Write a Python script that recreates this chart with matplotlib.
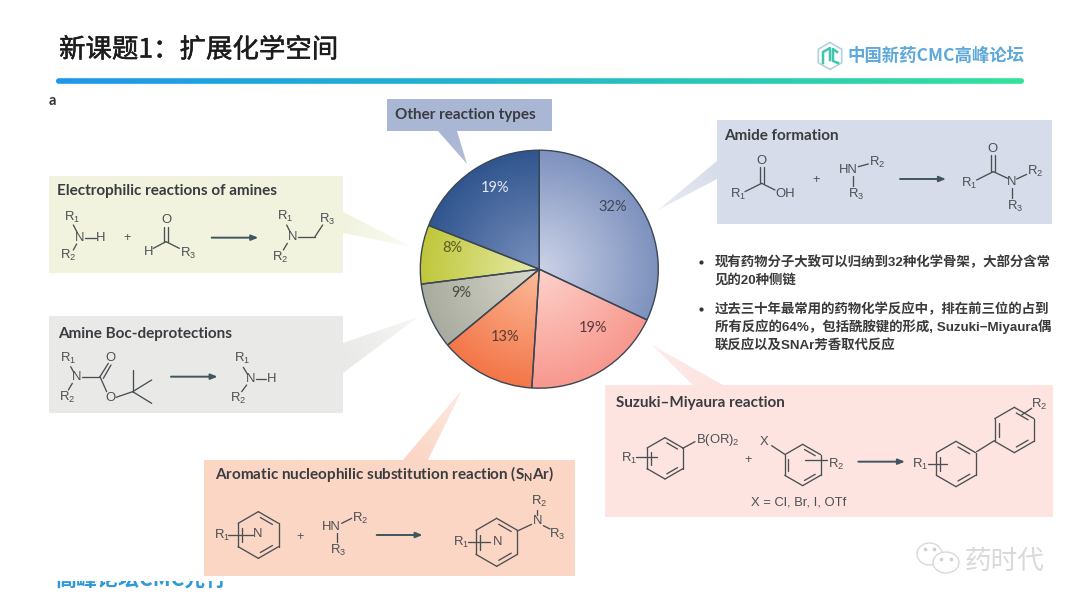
import numpy as np
import matplotlib
matplotlib.use("Agg")
import matplotlib.pyplot as plt
import matplotlib.patheffects as pe
from matplotlib.colors import LinearSegmentedColormap, to_rgb
from matplotlib.patches import Polygon, Rectangle, FancyBboxPatch, Ellipse

plt.rcParams["font.family"] = ["Noto Sans CJK SC", "DejaVu Sans"]

# pie values, clockwise from the top
shares = [32, 19, 13, 9, 8, 19]
inner_colors = ["#ccd3e8", "#fdd2cb", "#fcbb9b", "#d8d9cc", "#e6ebaa", "#7a90bd"]
outer_colors = ["#7e92be", "#f8988e", "#f37648", "#a9ab9e", "#c0c73a", "#30558f"]
label_colors = ["#3f4658", "#5a3a3a", "#5a3a30", "#4a4a44", "#5a5a20", "#e4e9f4"]

title_text = "新课题1：扩展化学空间"
logo_text = "中国新药CMC高峰论坛"
footer_text = "高峰论坛CMC先行"
watermark_text = "药时代"
bullet_lines = [
    "现有药物分子大致可以归纳到32种化学骨架，大部分含常",
    "见的20种侧链",
    "过去三十年最常用的药物化学反应中，排在前三位的占到",
    "所有反应的64%，包括酰胺键的形成, Suzuki−Miyaura偶",
    "联反应以及SNAr芳香取代反应",
]

R1 = r"R$_\mathregular{1}$"
R2 = r"R$_\mathregular{2}$"
R3 = r"R$_\mathregular{3}$"
INK = "#4a4f52"
LATIN = ["Lato", "DejaVu Sans"]
CHEM = ["Liberation Sans", "DejaVu Sans"]

fig = plt.figure(figsize=(10.8, 6.08), dpi=100, facecolor="white")
ax = fig.add_axes([0, 0, 1, 1])


def tail_fade(tail, color, tip_alpha):
    # pointer of a panel: fades from the panel edge towards its tip
    pts = np.array(tail, dtype=float)
    base = (pts[0] + pts[1]) / 2
    along = pts[2] - base
    x0, y0 = pts.min(axis=0)
    x1, y1 = pts.max(axis=0)
    gx, gy = np.meshgrid(np.linspace(x0, x1, 80), np.linspace(y0, y1, 80))
    t = np.clip(((gx - base[0]) * along[0] + (gy - base[1]) * along[1]) / (along @ along), 0, 1)
    rgba = np.zeros(t.shape + (4,))
    rgba[..., :3] = to_rgb(color)
    rgba[..., 3] = 1 - (1 - tip_alpha) * t
    im = ax.imshow(rgba, extent=(x0, x1, y1, y0), origin="upper", aspect="auto", zorder=1)
    clip = Polygon(pts, closed=True, fc="none", ec="none", transform=ax.transData)
    ax.add_patch(clip)
    im.set_clip_path(clip)


def panel(x0, y0, x1, y1, color, tail, tip_alpha, title, tx, ty):
    ax.add_patch(Rectangle((x0, y0), x1 - x0, y1 - y0, fc=color, ec="none", zorder=1))
    tail_fade(tail, color, tip_alpha)
    ax.text(tx, ty, title, family=LATIN, weight="bold", fontsize=11,
            color="#3a3d40", va="center", zorder=3)


def sketch(ox, oy, segs, labels, arrow=None, plus=None):
    # structure coordinates are 3x crop pixels, ox and oy are the crop corner
    for (xa, ya), (xb, yb) in segs:
        ax.plot([ox + xa / 3, ox + xb / 3], [oy + ya / 3, oy + yb / 3],
                color=INK, lw=0.95, zorder=3, solid_capstyle="round")
    for lx, ly, s in labels:
        ax.text(ox + lx / 3, oy + ly / 3, s, family=CHEM, fontsize=9.4,
                color=INK, ha="center", va="center", zorder=3)
    if arrow is not None:
        (xa, xb, ya) = arrow
        ax.annotate("", xy=(ox + xb / 3, oy + ya / 3), xytext=(ox + xa / 3, oy + ya / 3),
                    arrowprops=dict(arrowstyle="-|>,head_width=0.16,head_length=0.4",
                                    color="#3f5560", lw=1.4, shrinkA=0, shrinkB=0),
                    zorder=3)
    if plus is not None:
        ax.text(ox + plus[0] / 3, oy + plus[1] / 3, "+", family=CHEM, fontsize=9,
                color=INK, ha="center", va="center", zorder=3)


def ring(ox, oy, cx, cy, r, shift=0):
    # benzene-like ring with the point up, inner lines on every second edge
    angles = np.radians(90 + 60 * np.arange(7))
    xs = cx + r * np.cos(angles)
    ys = cy - r * np.sin(angles)
    segs = [((xs[i], ys[i]), (xs[i + 1], ys[i + 1])) for i in range(6)]
    for i in range(shift, 6, 2):
        mx, my = (xs[i] + xs[i + 1]) / 2, (ys[i] + ys[i + 1]) / 2
        ax_, ay_ = xs[i] + 0.2 * (xs[i + 1] - xs[i]), ys[i] + 0.2 * (ys[i + 1] - ys[i])
        bx_, by_ = xs[i] + 0.8 * (xs[i + 1] - xs[i]), ys[i] + 0.8 * (ys[i + 1] - ys[i])
        dx, dy = (cx - mx) * 0.2, (cy - my) * 0.2
        segs.append(((ax_ + dx, ay_ + dy), (bx_ + dx, by_ + dy)))
    sketch(ox, oy, segs, [])


# header
title = ax.text(59, 50, title_text, fontsize=19.05, color="#1c1c1c", va="center")
title.set_path_effects([pe.withStroke(linewidth=0.35, foreground="#1c1c1c")])
band = np.linspace(0, 1, 256).reshape(1, -1)
band_cmap = LinearSegmentedColormap.from_list("band", ["#1c98ea", "#24b8c8", "#33e29a"])
band_im = ax.imshow(band, extent=(56, 1024, 84, 78), cmap=band_cmap, aspect="auto", zorder=2)
band_clip = FancyBboxPatch((56, 78.2), 968, 5.6, boxstyle="round,pad=0,rounding_size=2.8",
                           fc="none", ec="none", transform=ax.transData)
ax.add_patch(band_clip)
band_im.set_clip_path(band_clip)

# logo
hex_a = np.radians(90 + 60 * np.arange(6))
ax.add_patch(Polygon(np.c_[830 + 13.5 * np.cos(hex_a), 56 - 13.5 * np.sin(hex_a)],
                     closed=True, fc="none", ec="#b4d2dc", lw=1.2, zorder=2))
ax.plot([823, 823, 830, 830], [63, 52, 48, 60], color="#3cc7ae", lw=1.8, zorder=3)
ax.plot([837, 833, 833, 838], [52, 49, 61, 63], color="#3cc7ae", lw=1.8, zorder=3)
ax.text(847, 55.5, logo_text, fontsize=12.55, weight="bold", color="#5ea8da", va="center", zorder=3)

ax.text(49, 101, "a", family=LATIN, weight="bold", fontsize=10.5, color="#333333", va="center")

# panels around the pie
panel(387, 99, 552, 131, "#a9b6d4", [(438, 131), (457, 131), (467, 164)], 0.9,
      "Other reaction types", 395, 114.5)
panel(717, 120, 1052, 224, "#d6dcea", [(717, 161), (717, 179), (658, 210)], 0.5,
      "Amide formation", 724, 136)
panel(49, 176, 343, 273, "#f1f3de", [(343, 212), (343, 233), (412, 247)], 0.3,
      "Electrophilic reactions of amines", 57, 190.5)
panel(49, 316, 343, 413, "#e9e9e7", [(343, 343), (343, 373), (418, 317)], 0.4,
      "Amine Boc-deprotections", 58, 334)
panel(204, 460, 575, 576, "#fbd6c5", [(403, 460), (428, 460), (462, 390)], 0.5,
      r"Aromatic nucleophilic substitution reaction (S$_\mathregular{N}$Ar)", 215, 474.5)
panel(605, 385, 1053, 517, "#fde4e1", [(693, 385), (723, 385), (652, 345)], 0.7,
      "Suzuki–Miyaura reaction", 616, 403.5)

# electrophilic reactions of amines
sketch(40, 170,
       [((100, 165), (112, 188)), ((100, 240), (110, 222)), ((135, 205), (168, 205)),
        ((372, 172), (372, 215)), ((384, 172), (384, 215)), ((340, 235), (378, 215)),
        ((378, 215), (418, 235)), ((740, 165), (750, 185)), ((742, 220), (730, 240)),
        ((775, 200), (825, 200)), ((825, 200), (848, 165))],
       [(95, 143, R1), (120, 205, "N"), (183, 205, "H"), (85, 255, R2), (378, 150, "O"),
        (325, 245, "H"), (445, 250, R3), (735, 140, R1), (758, 202, "N"), (720, 262, R2),
        (862, 147, R3)],
       arrow=(515, 655, 203), plus=(260, 205))

# amine boc deprotection
sketch(40, 170,
       [((92, 590), (102, 608)), ((97, 640), (85, 660)), ((125, 620), (180, 620)),
        ((180, 620), (205, 580)), ((190, 625), (213, 585)), ((180, 620), (200, 665)),
        ((228, 682), (278, 665)), ((278, 665), (278, 600)), ((278, 665), (335, 630)),
        ((278, 665), (335, 700)), ((610, 592), (622, 612)), ((648, 628), (678, 628)),
        ((620, 645), (605, 665))],
       [(85, 565, R1), (110, 622, "N"), (80, 682, R2), (212, 565, "O"), (212, 685, "O"),
        (605, 565, R1), (632, 628, "N"), (695, 628, "H"), (595, 685, R2)],
       arrow=(393, 533, 620))

# SNAr
ring(200, 455, 175, 240, 70, shift=1)
ring(200, 455, 890, 262, 72, shift=1)
sketch(200, 455,
       [((85, 240), (158, 240)), ((425, 205), (455, 190)), ((410, 235), (410, 262)),
        ((803, 262), (870, 262)), ((952, 228), (995, 208)), ((1012, 165), (1012, 180)),
        ((1030, 212), (1050, 222))],
       [(65, 240, R1), (172, 238, "N"), (395, 215, "HN"), (480, 190, R2), (415, 285, R3),
        (782, 262, R1), (892, 262, "N"), (1012, 198, "N"), (1018, 140, R2), (1072, 238, R3)],
       arrow=(530, 668, 240), plus=(300, 245))

# Suzuki-Miyaura
ring(600, 380, 195, 235, 62, shift=1)
ring(600, 380, 608, 255, 62, shift=1)
ring(600, 380, 1068, 252, 68, shift=1)
ring(600, 380, 1243, 150, 68, shift=1)
sketch(600, 380,
       [((108, 232), (170, 232)), ((248, 205), (285, 185)), ((515, 197), (553, 222)),
        ((615, 240), (682, 240)), ((985, 252), (1040, 252)), ((1130, 215), (1183, 182)),
        ((1265, 105), (1295, 85))],
       [(88, 235, R1), (352, 180, r"B(OR)$_\mathregular{2}$"), (492, 187, "X"),
        (708, 252, R2), (960, 252, R1), (1318, 72, R2),
        (595, 368, "X = Cl, Br, I, OTf")],
       arrow=(775, 915, 245), plus=(443, 240))

# amide formation
sketch(710, 115,
       [((150, 155), (150, 205)), ((162, 155), (162, 205)), ((105, 230), (155, 205)),
        ((155, 205), (195, 225)), ((445, 155), (475, 147)), ((428, 183), (428, 213)),
        ((800, 195), (850, 170)), ((843, 120), (843, 170)), ((855, 120), (855, 170)),
        ((850, 170), (893, 190)), ((920, 192), (950, 178)), ((905, 218), (905, 250))],
       [(155, 137, "O"), (85, 238, R1), (225, 238, "OH"), (415, 165, "HN"), (500, 143, R2),
        (438, 238, R3), (778, 205, R1), (848, 103, "O"), (905, 200, "N"), (975, 170, R2),
        (915, 275, R3)],
       arrow=(570, 708, 192), plus=(318, 195))

# bullet text
for bx, by in [(701, 262), (701, 309)]:
    ax.plot(bx, by, "o", ms=2.0, color="#333333", zorder=3)
for line, ly in zip(bullet_lines, [262, 280, 309, 327, 345]):
    ax.text(715, ly, line, family=["Liberation Sans", "Noto Sans CJK SC"], weight="bold",
            fontsize=9.68, color="#3a3a3a", va="center", zorder=3)

# footer text cut off by the white strip above it
ax.text(56, 579, footer_text, fontsize=15.1, weight="bold", color="#2f9ad8", va="center", zorder=0.5)
ax.add_patch(Rectangle((40, 555), 200, 25.5, fc="white", ec="none", zorder=0.8))

# watermark
for cx, cy, w, h in [(929.5, 554, 25, 22), (946, 562.5, 26, 21)]:
    ax.add_patch(Ellipse((cx, cy), w, h, fc="white", ec="#d8d8d8", lw=1.0, zorder=3))
for ex, ey in [(925, 549), (934, 549), (941, 559), (951, 559)]:
    ax.plot(ex, ey, "o", ms=1.6, color="#cfcfcf", zorder=3)
ax.text(965, 561, watermark_text, fontsize=19.2, color="#d9d9d9", va="center", zorder=3)

ax.set_xlim(0, 1080)
ax.set_ylim(608, 0)
ax.axis("off")

# pie, radius 119 px around (539.3, 269.2)
pie_r = 119.0 * 1.02
pie_ax = fig.add_axes([(539.3 - pie_r) / 1080, 1 - (269.2 + pie_r) / 608,
                       2 * pie_r / 1080, 2 * pie_r / 608])
pie_ax.patch.set_alpha(0)
wedges, _, pcts = pie_ax.pie(shares, startangle=90, counterclock=False, radius=1,
                             autopct=lambda p: "{0:.0f}%".format(p),
                             wedgeprops=dict(ec="#3b4654", lw=1.0))
label_spots = [(0.62, 0.52), (0.45, -0.49), (-0.29, -0.57), (-0.66, -0.20), (-0.735, 0.18), (-0.37, 0.685)]
grid_x, grid_y = np.meshgrid(np.linspace(-1, 1, 300), np.linspace(-1, 1, 300))
dist = np.clip(np.hypot(grid_x, grid_y), 0, 1)
for i, wedge in enumerate(wedges):
    cmap = LinearSegmentedColormap.from_list("w{0}".format(i), [inner_colors[i], outer_colors[i]])
    im = pie_ax.imshow(dist, extent=(-1, 1, -1, 1), cmap=cmap, vmin=0, vmax=1, zorder=1)
    im.set_clip_path(wedge)
    wedge.set_facecolor("none")
    wedge.set_zorder(2)
    wedge.set_clip_on(False)
    pcts[i].set_position(label_spots[i])
    pcts[i].set_color(label_colors[i])
    pcts[i].set_family(LATIN)
    pcts[i].set_fontsize(10.5)
    pcts[i].set_zorder(3)
pie_ax.set_xlim(-1.02, 1.02)
pie_ax.set_ylim(-1.02, 1.02)
pie_ax.axis("off")

fig.savefig("out.png", dpi=100)
